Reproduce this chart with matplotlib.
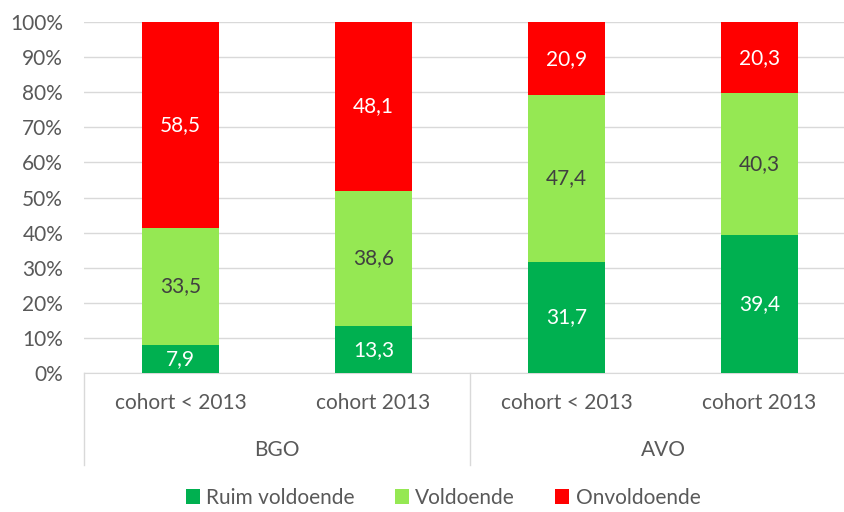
import matplotlib
matplotlib.use("Agg")
import matplotlib.pyplot as plt
import numpy as np

# data (percent)
cohorts = ["cohort < 2013", "cohort 2013", "cohort < 2013", "cohort 2013"]
groups = ["BGO", "AVO"]
ruim = [7.9, 13.3, 31.7, 39.4]
voldoende = [33.5, 38.6, 47.4, 40.3]
onvoldoende = [58.5, 48.1, 20.9, 20.3]
series_names = ["Ruim voldoende", "Voldoende", "Onvoldoende"]

colors = ["#00B050", "#95E853", "#FF0000"]
label_colors = ["white", "#404040", "white"]
fs = 15

plt.rcParams['font.family'] = ['Lato', 'DejaVu Sans']

fig = plt.figure(figsize=(8.44, 5.12), dpi=100)
ax = fig.add_axes([84 / 844, (512 - 373) / 512, 772 / 844, 351 / 512])

x = np.arange(len(cohorts))
bottom = np.zeros(len(cohorts))
handles = []
for vals, c, lc, name in zip([ruim, voldoende, onvoldoende], colors, label_colors, series_names):
    vals = np.array(vals)
    b = ax.bar(x, vals, 0.4, bottom=bottom, color=c, label=name, zorder=3)
    handles.append(b)
    for xi, v, bt in zip(x, vals, bottom):
        ax.text(xi, bt + v / 2, f"{v:.1f}".replace(".", ","), ha="center", va="center",
                color=lc, fontsize=fs, zorder=4)
    bottom += vals

ax.set_xlim(-0.5, 3.5)
ax.set_ylim(0, 100)
ax.set_yticks(np.arange(0, 101, 10))
ax.set_yticklabels([f"{v}%" for v in range(0, 101, 10)])
ax.yaxis.grid(True, color="#D9D9D9", linewidth=1, zorder=0)
ax.tick_params(axis="y", length=0, pad=15, labelsize=fs, labelcolor="#595959")
ax.set_xticks([])
for s in ["top", "right", "left"]:
    ax.spines[s].set_visible(False)
ax.spines["bottom"].set_color("#D9D9D9")

# multi-level category axis
trans = ax.get_xaxis_transform()
for xv in [-0.5, 1.5, 3.5]:
    ax.plot([xv, xv], [0, -0.262], transform=trans, color="#D9D9D9", lw=1, clip_on=False)
for xi, lab in zip(x, cohorts):
    ax.text(xi, -0.085, lab, transform=trans, ha="center", va="center",
            fontsize=fs, color="#595959")
for gi, g in enumerate(groups):
    ax.text(gi * 2 + 0.5, -0.22, g, transform=trans, ha="center", va="center",
            fontsize=fs, color="#595959")

fig.legend(handles=handles, labels=series_names, loc="center", bbox_to_anchor=(443 / 844, 1 - 498 / 512),
           ncol=3, frameon=False, fontsize=fs, handlelength=0.7, handleheight=0.7,
           handletextpad=0.3, columnspacing=1.9, labelcolor="#595959")

fig.savefig("out.png", dpi=100)
